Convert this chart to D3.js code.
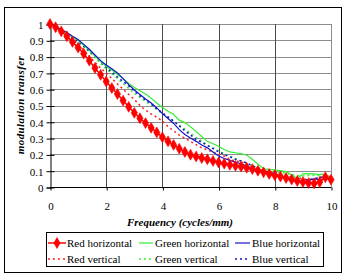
<!DOCTYPE html>
<meta charset="utf-8">
<script src="https://cdn.jsdelivr.net/npm/d3@7"></script>
<style>
  body { margin: 0; background: #fff; }
  svg { display: block; }
</style>
<svg width="344" height="273"></svg>
<script>
// spatial frequency (cycles/mm)
var freq = [0, 0.2, 0.4, 0.6, 0.8, 1.0, 1.2, 1.4, 1.6, 1.8,
  2.0, 2.2, 2.4, 2.6, 2.8, 3.0, 3.2, 3.4, 3.6, 3.8,
  4.0, 4.2, 4.4, 4.6, 4.8, 5.0, 5.2, 5.4, 5.6, 5.8,
  6.0, 6.2, 6.4, 6.6, 6.8, 7.0, 7.2, 7.4, 7.6, 7.8,
  8.0, 8.2, 8.4, 8.6, 8.8, 9.0, 9.2, 9.4, 9.6, 9.8, 10.0];

var redH = [1.0, 0.98, 0.955, 0.925, 0.89, 0.855, 0.818, 0.775, 0.73, 0.688,
  0.647, 0.607, 0.57, 0.53, 0.492, 0.455, 0.422, 0.392, 0.363, 0.335,
  0.305, 0.28, 0.258, 0.235, 0.215, 0.198, 0.187, 0.178, 0.17, 0.16,
  0.15, 0.143, 0.136, 0.13, 0.125, 0.118, 0.11, 0.1, 0.09, 0.08,
  0.072, 0.064, 0.055, 0.046, 0.037, 0.03, 0.024, 0.022, 0.03, 0.06, 0.045];

var greenH = [1.0, 0.985, 0.965, 0.945, 0.922, 0.9, 0.87, 0.838, 0.805, 0.77,
  0.74, 0.718, 0.69, 0.665, 0.635, 0.61, 0.59, 0.57, 0.545, 0.515,
  0.488, 0.465, 0.445, 0.41, 0.395, 0.37, 0.34, 0.31, 0.28, 0.265,
  0.25, 0.23, 0.215, 0.21, 0.205, 0.195, 0.17, 0.14, 0.112, 0.108,
  0.105, 0.1, 0.094, 0.075, 0.05, 0.08, 0.082, 0.08, 0.076, 0.08, 0.04];

var blueH = [1.0, 0.985, 0.965, 0.948, 0.925, 0.905, 0.875, 0.845, 0.81, 0.775,
  0.748, 0.725, 0.7, 0.665, 0.628, 0.595, 0.568, 0.54, 0.515, 0.485,
  0.45, 0.42, 0.39, 0.352, 0.322, 0.3, 0.28, 0.258, 0.24, 0.215,
  0.19, 0.175, 0.163, 0.152, 0.142, 0.128, 0.112, 0.102, 0.098, 0.092,
  0.08, 0.065, 0.05, 0.04, 0.035, 0.033, 0.04, 0.05, 0.045, 0.05, 0.05];

var redV = [1.0, 0.982, 0.96, 0.935, 0.905, 0.875, 0.84, 0.8, 0.765, 0.73,
  0.7, 0.665, 0.632, 0.6, 0.568, 0.538, 0.5, 0.472, 0.448, 0.428,
  0.405, 0.37, 0.345, 0.318, 0.3, 0.28, 0.26, 0.24, 0.228, 0.215,
  0.2, 0.19, 0.168, 0.16, 0.155, 0.14, 0.125, 0.11, 0.1, 0.095,
  0.09, 0.08, 0.07, 0.06, 0.055, 0.05, 0.045, 0.05, 0.06, 0.075, 0.06];

var greenV = [1.0, 0.983, 0.962, 0.94, 0.915, 0.89, 0.86, 0.828, 0.792, 0.758,
  0.725, 0.695, 0.665, 0.635, 0.605, 0.575, 0.55, 0.525, 0.5, 0.475,
  0.45, 0.425, 0.405, 0.38, 0.355, 0.33, 0.305, 0.28, 0.258, 0.24,
  0.222, 0.205, 0.19, 0.175, 0.16, 0.145, 0.13, 0.118, 0.108, 0.1,
  0.095, 0.09, 0.085, 0.075, 0.07, 0.068, 0.07, 0.072, 0.07, 0.065, 0.06];

var blueV = [1.0, 0.984, 0.963, 0.942, 0.918, 0.893, 0.864, 0.833, 0.805, 0.77,
  0.735, 0.705, 0.675, 0.648, 0.62, 0.59, 0.56, 0.535, 0.51, 0.48,
  0.455, 0.43, 0.405, 0.375, 0.345, 0.32, 0.29, 0.275, 0.255, 0.235,
  0.215, 0.2, 0.185, 0.17, 0.16, 0.148, 0.13, 0.115, 0.1, 0.09,
  0.078, 0.065, 0.055, 0.05, 0.045, 0.04, 0.045, 0.05, 0.06, 0.06, 0.05];

var seriesNames = ["Red horizontal", "Green horizontal", "Blue horizontal",
  "Red vertical", "Green vertical", "Blue vertical"];
var xTicks = [0, 2, 4, 6, 8, 10];
var yTicks = [0, 0.1, 0.2, 0.3, 0.4, 0.5, 0.6, 0.7, 0.8, 0.9, 1];

var FONT = "'Liberation Serif'";
var svg = d3.select("svg");

var x = d3.scaleLinear().domain([0, 10]).range([50, 331]);
var y = d3.scaleLinear().domain([0, 1]).range([187, 24]);

// chart border
svg.append("rect")
  .attr("x", 4.5).attr("y", 7.5)
  .attr("width", 337).attr("height", 265)
  .attr("fill", "none").attr("stroke", "#000");

// horizontal grid
svg.append("g")
  .selectAll("line")
  .data(yTicks.slice(1))
  .enter().append("line")
  .attr("x1", x(0)).attr("x2", x(10))
  .attr("y1", function(d) { return Math.round(y(d)) + 0.5; })
  .attr("y2", function(d) { return Math.round(y(d)) + 0.5; })
  .attr("stroke", "#8c8c8c");

// vertical grid
svg.append("g")
  .selectAll("line")
  .data(xTicks.slice(1))
  .enter().append("line")
  .attr("x1", function(d) { return Math.round(x(d)) + 0.5; })
  .attr("x2", function(d) { return Math.round(x(d)) + 0.5; })
  .attr("y1", y(1)).attr("y2", y(0))
  .attr("stroke", function(d) { return d == 10 ? "#8c8c8c" : "#4a4a4a"; });

// y axis
var yAxis = svg.append("g")
  .attr("transform", "translate(50.5,0.5)")
  .call(d3.axisLeft(y).tickValues(yTicks).tickSize(4).tickPadding(3)
    .tickFormat(function(d) { return d3.format("")(+d.toFixed(1)); }));
yAxis.selectAll(".tick line").attr("x2", 4).attr("x1", -4);
yAxis.selectAll("line, path").attr("stroke", "#000");
yAxis.selectAll("text")
  .style("font-family", FONT).style("font-size", "11px").attr("fill", "#000")
  .attr("dy", "0.35em").attr("x", -7);

// x axis
var xAxis = svg.append("g")
  .attr("transform", "translate(0.5,187.5)")
  .call(d3.axisBottom(x).tickValues(xTicks).tickSize(3).tickPadding(12));
xAxis.selectAll("line, path").attr("stroke", "#000");
xAxis.select(".domain").attr("d", "M50,0H331");
xAxis.selectAll("text")
  .style("font-family", FONT).style("font-size", "11px").attr("fill", "#000");

// axis titles
svg.append("text")
  .attr("x", 180).attr("y", 226)
  .attr("text-anchor", "middle")
  .style("font-family", FONT).style("font-size", "11px")
  .style("font-weight", "bold").style("font-style", "italic")
  .text("Frequency (cycles/mm)");

svg.append("text")
  .attr("transform", "translate(24,105) rotate(-90)")
  .attr("text-anchor", "middle")
  .style("font-family", FONT).style("font-size", "11px")
  .style("font-weight", "bold").style("font-style", "italic")
  .style("letter-spacing", "0.4px")
  .text("modulation transfer");

var styles = [
  { color: "#ff0000", width: 1.5, dash: null, marker: true },
  { color: "#33ee33", width: 1.2, dash: null },
  { color: "#1414c8", width: 1.2, dash: null },
  { color: "#ff2020", width: 1.5, dash: "2,3" },
  { color: "#33ee33", width: 1.5, dash: "2,3" },
  { color: "#1414c8", width: 1.5, dash: "2,3" }
];
var allSeries = [redH, greenH, blueH, redV, greenV, blueV];

var line = d3.line()
  .x(function(d, i) { return x(freq[i]); })
  .y(function(d) { return y(d); });

var marker = d3.symbol().type(d3.symbolDiamond).size(34);

var plot = svg.append("g");
var order = [3, 4, 5, 1, 2, 0];
order.forEach(function(k) {
  var s = styles[k];
  plot.append("path")
    .datum(allSeries[k])
    .attr("d", line)
    .attr("fill", "none")
    .attr("stroke", s.color)
    .attr("stroke-width", s.width)
    .attr("stroke-dasharray", s.dash);
  if (s.marker) {
    plot.selectAll(".mk")
      .data(allSeries[k])
      .enter().append("path")
      .attr("d", marker)
      .attr("transform", function(d, i) { return "translate(" + x(freq[i]) + "," + y(d) + ")"; })
      .attr("fill", s.color)
      .attr("stroke", s.color).attr("stroke-width", 0.6);
  }
});

// legend
svg.append("rect")
  .attr("x", 46.5).attr("y", 232.5)
  .attr("width", 277).attr("height", 34)
  .attr("fill", "none").attr("stroke", "#000");

var legX = [[48, 66, 67], [139, 153, 155], [235, 250, 252]];
var legY = [243, 259];
seriesNames.forEach(function(name, k) {
  var col = k % 3, row = Math.floor(k / 3), s = styles[k];
  var g = svg.append("g");
  g.append("line")
    .attr("x1", legX[col][0]).attr("x2", legX[col][1])
    .attr("y1", legY[row]).attr("y2", legY[row])
    .attr("stroke", s.color).attr("stroke-width", s.width)
    .attr("stroke-dasharray", s.dash);
  if (s.marker) {
    g.append("path")
      .attr("d", marker)
      .attr("transform", "translate(" + (legX[col][0] + legX[col][1]) / 2 + "," + legY[row] + ")")
      .attr("fill", s.color)
      .attr("stroke", s.color).attr("stroke-width", 0.6);
  }
  g.append("text")
    .attr("x", legX[col][2]).attr("y", legY[row] + 3.5)
    .style("font-family", FONT).style("font-size", "11px")
    .text(name);
});
</script>
